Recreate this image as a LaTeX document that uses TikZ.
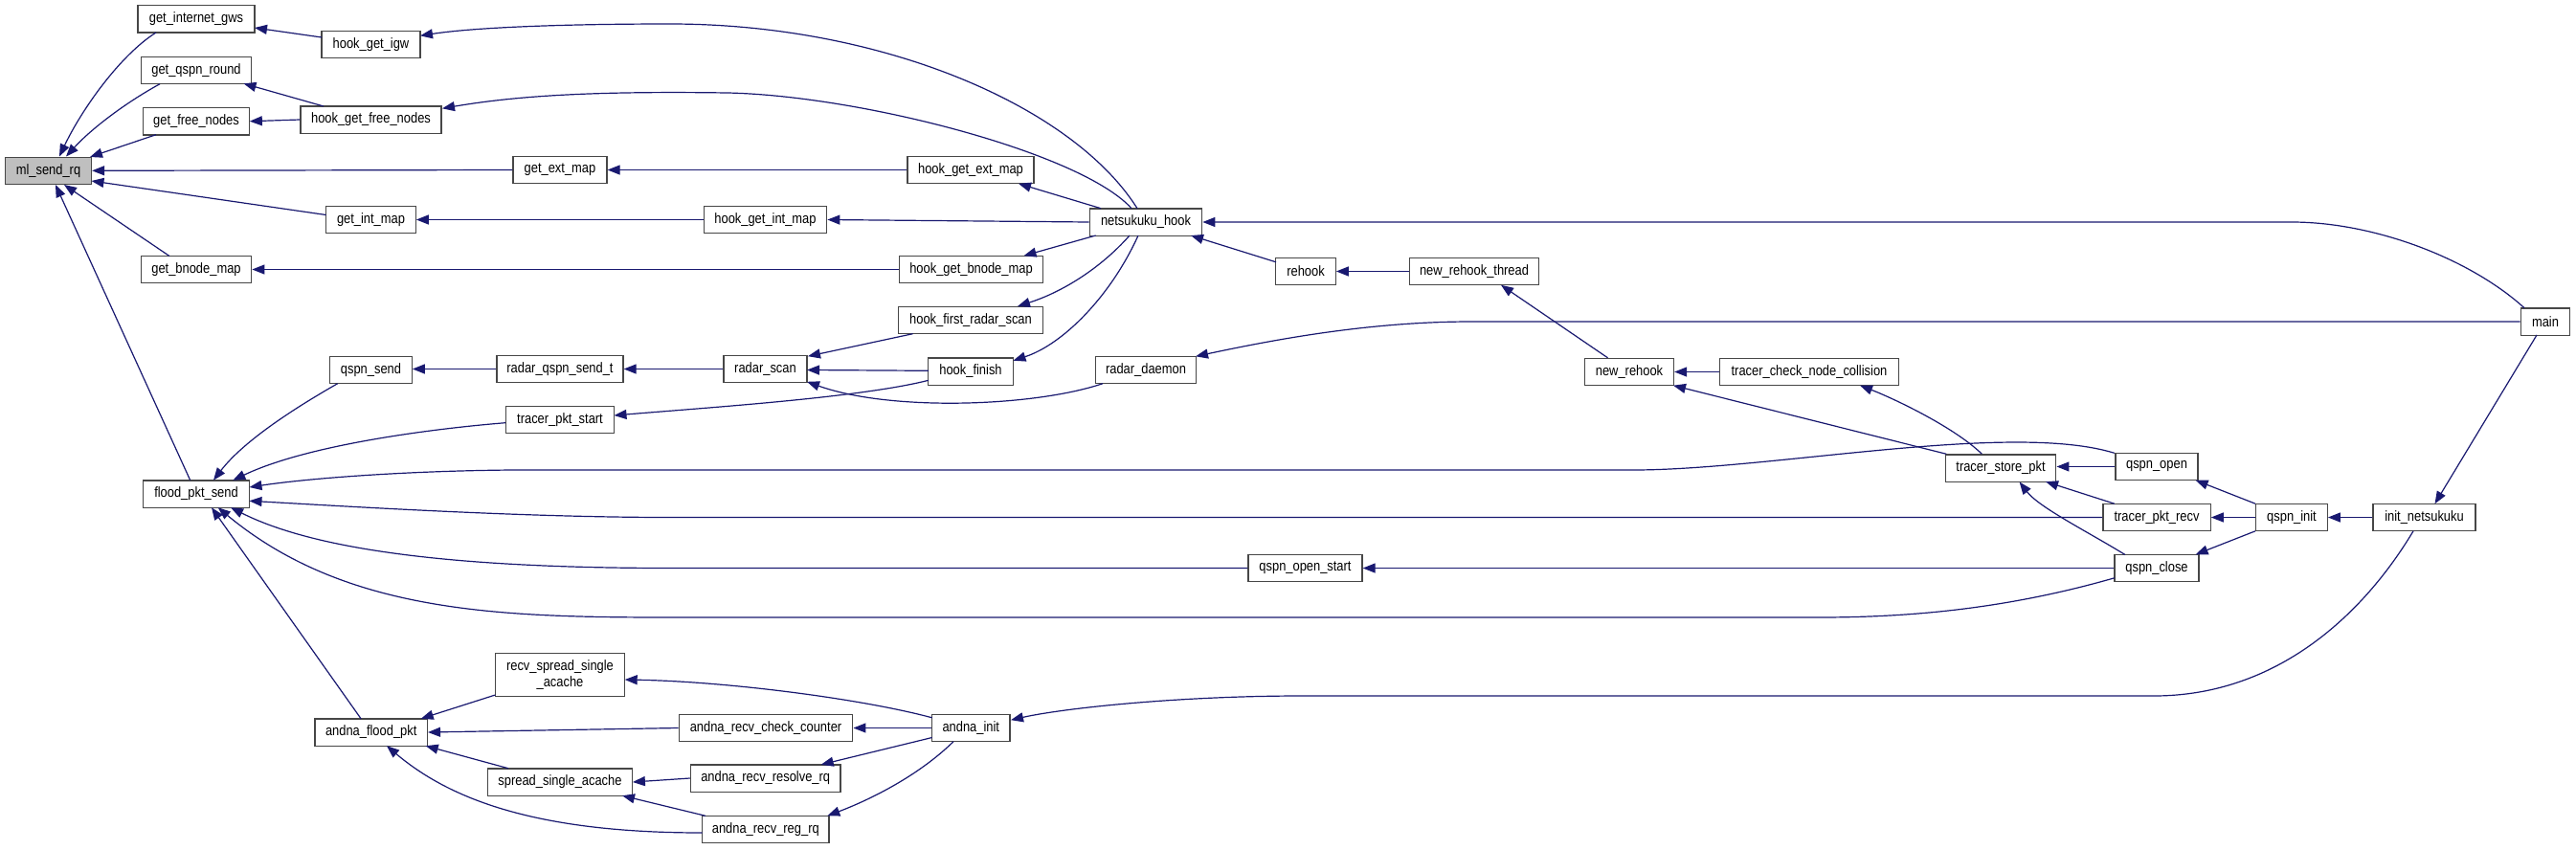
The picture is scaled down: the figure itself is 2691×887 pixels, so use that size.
\documentclass[tikz,border=0pt]{standalone}
\usepackage{fontspec}
\setmainfont{Liberation Sans}
\newfontfamily\nodefont[FakeStretch=0.86]{Liberation Sans}
\usetikzlibrary{arrows.meta,calc}
\definecolor{edgeblue}{HTML}{191970}
\begin{document}
\begin{tikzpicture}[x=1pt,y=-1pt,
  fn/.style={draw=black!72, line width=1.3pt, fill=white, inner sep=0pt, minimum height=28.3pt, font=\nodefont\fontsize{15}{17}\selectfont, text=black, align=center},
  callarrow/.style={draw=edgeblue, line width=1.2pt, -{Triangle[length=13pt,width=10pt]}},
]
\fill[white] (0,0) rectangle (2691,887);
\path[use as bounding box] (0,0) rectangle (2691,887);

% nodes
\node[fn,fill=gray!50,minimum width=90] (mlsend) at (50.5,178.3) {ml\_send\_rq};
\node[fn,minimum width=122] (gig) at (205,19.8) {get\_internet\_gws};
\node[fn,minimum width=103] (hgi) at (387.5,46.5) {hook\_get\_igw};
\node[fn,minimum width=115.5] (gqr) at (205,73.5) {get\_qspn\_round};
\node[fn,minimum width=110.4] (gfn) at (205,126.7) {get\_free\_nodes};
\node[fn,minimum width=147] (hgfn) at (387.5,125) {hook\_get\_free\_nodes};
\node[fn,minimum width=98] (gem) at (585,177.5) {get\_ext\_map};
\node[fn,minimum width=93.4] (gim) at (387.5,229.5) {get\_int\_map};
\node[fn,minimum width=115.5] (gbm) at (205,281.5) {get\_bnode\_map};
\node[fn,minimum width=85.4] (qs) at (387.5,386.5) {qspn\_send};
\node[fn,minimum width=132] (rqst) at (585,385.5) {radar\_qspn\_send\_t};
\node[fn,minimum width=113.5] (tps) at (585,438.5) {tracer\_pkt\_start};
\node[fn,minimum width=132] (hgem) at (1014,177.5) {hook\_get\_ext\_map};
\node[fn,minimum width=128.5] (hgim) at (799.5,229.5) {hook\_get\_int\_map};
\node[fn,minimum width=117.4] (nh) at (1197,232) {netsukuku\_hook};
\node[fn,minimum width=149.6] (hgbm) at (1014.5,281.5) {hook\_get\_bnode\_map};
\node[fn,minimum width=151] (hfrs) at (1014,334.5) {hook\_first\_radar\_scan};
\node[fn,minimum width=87] (rs) at (799.5,385.5) {radar\_scan};
\node[fn,minimum width=88.5] (hf) at (1014,388) {hook\_finish};
\node[fn,minimum width=104.4] (rd) at (1197,386.5) {radar\_daemon};
\node[fn,minimum width=62.4] (rh) at (1364,283.5) {rehook};
\node[fn,minimum width=134.7] (nrt) at (1540,283.5) {new\_rehook\_thread};
\node[fn,minimum width=93] (nr) at (1702,388.5) {new\_rehook};
\node[fn,minimum width=187.6] (tcnc) at (1890,388.5) {tracer\_check\_node\_collision};
\node[fn,minimum width=51.3] (main) at (2659,336) {main};
\node[fn,minimum width=110.7] (fps) at (205,516) {flood\_pkt\_send};
\node[fn,minimum width=134.8,minimum height=45.4pt] (rssa) at (585,705) {recv\_spread\_single\\\_acache};
\node[fn,minimum width=117.4] (afp) at (387.7,765) {andna\_flood\_pkt};
\node[fn,minimum width=150.5] (ssa) at (585,817) {spread\_single\_acache};
\node[fn,minimum width=181.6] (arcc) at (800,760.5) {andna\_recv\_check\_counter};
\node[fn,minimum width=81.3] (ai) at (1014.3,760.5) {andna\_init};
\node[fn,minimum width=156.6] (arrr) at (799.7,813) {andna\_recv\_resolve\_rq};
\node[fn,minimum width=132.5] (arreg) at (799.8,866.5) {andna\_recv\_reg\_rq};
\node[fn,minimum width=119] (qos) at (1363.5,593.5) {qspn\_open\_start};
\node[fn,minimum width=115.6] (tsp) at (2090,489) {tracer\_store\_pkt};
\node[fn,minimum width=85.8] (qo) at (2253,487.5) {qspn\_open};
\node[fn,minimum width=112.3] (tpr) at (2253,540.5) {tracer\_pkt\_recv};
\node[fn,minimum width=74.5] (qi) at (2394,540.5) {qspn\_init};
\node[fn,minimum width=107] (inn) at (2532.5,540.5) {init\_netsukuku};
\node[fn,minimum width=88.2] (qc) at (2253,593.5) {qspn\_close};

% edges (caller -> callee)
\draw[callarrow] ($(gig)+(-42,14.2)$) .. controls (125,58) and (85,115) .. ($(mlsend)+(11.5,-14.8)$);
\draw[callarrow] ($(gqr)+(-38,14.2)$) .. controls (130,108) and (95,135) .. ($(mlsend)+(18.5,-14.8)$);
\draw[callarrow] ($(gfn)+(-42,14)$) -- ($(mlsend)+(43.5,-14.3)$);
\draw[callarrow] (gem.west) -- (mlsend.east);
\draw[callarrow] ($(gim)+(-46.9,-5)$) -- ($(mlsend)+(45,10.7)$);
\draw[callarrow] ($(gbm)+(-28,-14)$) -- ($(mlsend)+(16.5,14.7)$);
\draw[callarrow] ($(fps)+(-6.3,-14.3)$) -- ($(mlsend)+(7.5,14.7)$);
\draw[callarrow] ($(hgi)+(-51.5,-7.5)$) -- ($(gig)+(61,9.2)$);
\draw[callarrow] ($(hgfn)+(-49.5,-14)$) -- ($(gqr)+(49.5,13.8)$);
\draw[callarrow] (hgfn.west) -- (gfn.east);
\draw[callarrow] ($(nh)+(-9,-14.3)$) .. controls (1120,110) and (920,25) .. (700,25) .. controls (600,25) and (500,28) .. ($(hgi)+(51.5,-9.2)$);
\draw[callarrow] ($(nh)+(-15,-14.3)$) .. controls (1130,160) and (900,100) .. (760,97) .. controls (620,95) and (540,100) .. ($(hgfn)+(74.5,-11.7)$);
\draw[callarrow] (hgem.west) -- (gem.east);
\draw[callarrow] ($(nh)+(-47,-14.3)$) -- ($(hgem)+(50,14.3)$);
\draw[callarrow] (hgim.west) -- (gim.east);
\draw[callarrow] (nh.west) -- (hgim.east);
\draw[callarrow] (hgbm.west) -- (gbm.east);
\draw[callarrow] ($(nh)+(-52.4,14)$) -- ($(hgbm)+(55,-14.3)$);
\draw[callarrow] ($(nh)+(-17,14)$) .. controls (1150,280) and (1110,305) .. ($(hfrs)+(49,-14.5)$);
\draw[callarrow] ($(nh)+(-8,14)$) .. controls (1160,310) and (1110,360) .. ($(hf)+(44.5,-11.3)$);
\draw[callarrow] ($(main)+(-22,-14.3)$) .. controls (2580,270) and (2480,232) .. (2394,232) -- (nh.east);
\draw[callarrow] ($(rh)+(-31,-9.7)$) -- ($(nh)+(47,14)$);
\draw[callarrow] (nrt.west) -- (rh.east);
\draw[callarrow] ($(nr)+(-22.5,-14.7)$) -- ($(nrt)+(28,14.3)$);
\draw[callarrow] (tcnc.west) -- (nr.east);
\draw[callarrow] ($(tsp)+(-56.7,-14.7)$) -- ($(nr)+(46,14.2)$);
\draw[callarrow] ($(tsp)+(-19.6,-14.7)$) .. controls (2040,445) and (1975,415) .. ($(tcnc)+(53,14.2)$);
\draw[callarrow] (qo.west) -- (tsp.east |- qo.west);
\draw[callarrow] ($(tpr)+(-44.25,-14.3)$) -- ($(tsp)+(47,14.2)$);
\draw[callarrow] ($(qc)+(-33,-14)$) .. controls (2180,555) and (2130,530) .. ($(tsp)+(19.6,14.5)$);
\draw[callarrow] ($(qi)+(-38,-14.3)$) -- ($(qo)+(40.6,14.2)$);
\draw[callarrow] (qi.west) -- (tpr.east);
\draw[callarrow] ($(qi)+(-38,14.3)$) -- ($(qc)+(40.6,-14.2)$);
\draw[callarrow] (inn.west) -- (qi.east);
\draw[callarrow] ($(main)+(-9,14)$) -- ($(inn)+(11,-14.2)$);
\draw[callarrow] ($(inn)+(-11.5,14.3)$) .. controls (2470,640) and (2380,727) .. (2250,727) -- (1360,727) .. controls (1230,727) and (1110,740) .. ($(ai)+(41.7,-8.3)$);
\draw[callarrow] ($(qs)+(-34.8,14.2)$) .. controls (310,425) and (255,460) .. ($(fps)+(18,-14.3)$);
\draw[callarrow] (rqst.west) -- (qs.east |- rqst.west);
\draw[callarrow] (rs.west) -- (rqst.east);
\draw[callarrow] ($(hfrs)+(-60.4,14.2)$) -- ($(rs)+(44.5,-13.3)$);
\draw[callarrow] ($(hf)+(-44,-0.7)$) -- ($(rs)+(43.5,1)$);
\draw[callarrow] ($(rd)+(-45,14.2)$) .. controls (1080,425) and (930,430) .. ($(rs)+(43.5,13.3)$);
\draw[callarrow] (main.west) -- (1537,336) .. controls (1430,336) and (1330,355) .. ($(rd)+(52,-14.2)$);
\draw[callarrow] ($(tps)+(-57,3.2)$) .. controls (450,448) and (320,465) .. ($(fps)+(38.3,-14.2)$);
\draw[callarrow] ($(hf)+(-44,9.3)$) .. controls (900,415) and (750,425) .. ($(tps)+(56.5,-4.5)$);
\draw[callarrow] ($(qo)+(-44.25,-14.2)$) .. controls (2100,440) and (1850,491) .. (1706,491) -- (535,491) .. controls (420,492) and (320,500) .. ($(fps)+(55.5,-7)$);
\draw[callarrow] (tpr.west) -- (700,540.5) .. controls (550,540.5) and (380,530) .. ($(fps)+(55.5,7.3)$);
\draw[callarrow] (qos.west) -- (700,593.5) .. controls (450,593.5) and (320,570) .. ($(fps)+(36,14.2)$);
\draw[callarrow] ($(qc)+(-44.25,10.3)$) .. controls (2100,635) and (2000,645) .. (1900,645) -- (700,645) .. controls (520,645) and (360,640) .. ($(fps)+(22.7,14.2)$);
\draw[callarrow] (qc.west) -- (qos.east);
\draw[callarrow] ($(afp)+(-10.5,-14)$) -- ($(fps)+(16,14.2)$);
\draw[callarrow] ($(rssa)+(-67.6,21)$) -- ($(afp)+(52,-14.2)$);
\draw[callarrow] (arcc.west) -- (afp.east);
\draw[callarrow] ($(ssa)+(-54,-14.3)$) -- ($(afp)+(57,14.2)$);
\draw[callarrow] ($(arreg)+(-66.3,3.5)$) .. controls (560,870) and (470,835) .. ($(afp)+(16.3,14.2)$);
\draw[callarrow] ($(ai)+(-40.6,-10.7)$) .. controls (900,730) and (760,712) .. ($(rssa)+(67.7,5)$);
\draw[callarrow] (ai.west) -- (arcc.east);
\draw[callarrow] ($(ai)+(-40.6,10)$) -- ($(arrr)+(58,-14.2)$);
\draw[callarrow] ($(ai)+(-18.3,14.2)$) .. controls (960,810) and (910,835) .. ($(arreg)+(64.5,-14.2)$);
\draw[callarrow] (arrr.west) -- (ssa.east);
\draw[callarrow] ($(arreg)+(-62.8,-14.2)$) -- ($(ssa)+(65,14.2)$);
\end{tikzpicture}
\end{document}
